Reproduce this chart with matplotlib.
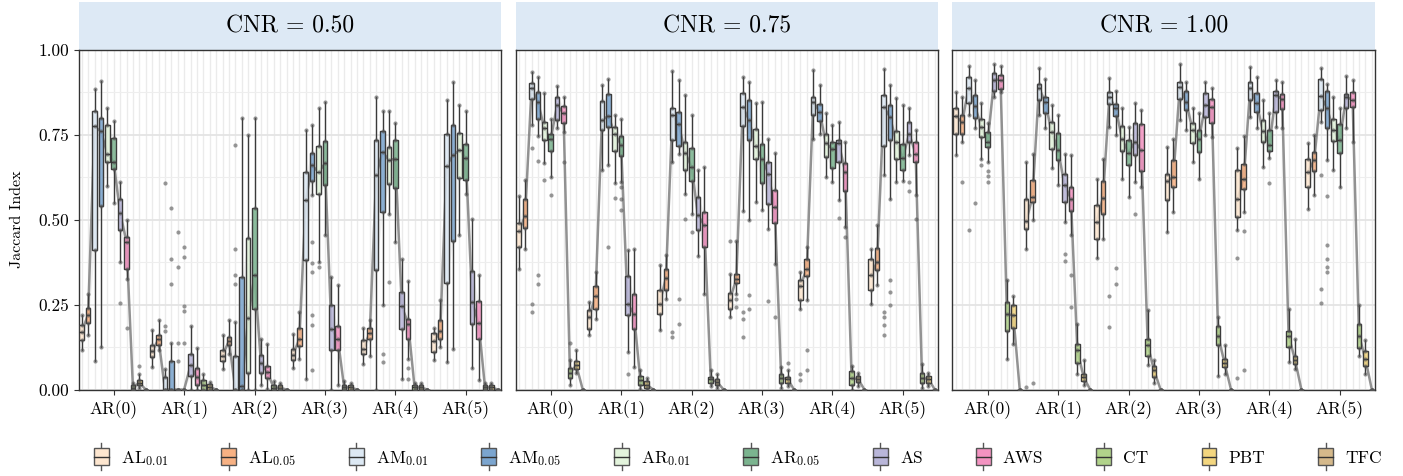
import matplotlib
matplotlib.use("Agg")
import matplotlib.pyplot as plt
from matplotlib.colors import to_rgba
from matplotlib.legend_handler import HandlerBase
from matplotlib.lines import Line2D
from matplotlib.patches import Patch, Rectangle

plt.rcParams.update({
    "font.family": "cmr10",
    "mathtext.fontset": "cm",
    "axes.formatter.use_mathtext": True,
})

# ── Data ──────────────────────────────────────────────────────────────
METHODS = [r"AL$_{0.01}$", r"AL$_{0.05}$", r"AM$_{0.01}$", r"AM$_{0.05}$",
           r"AR$_{0.01}$", r"AR$_{0.05}$", "AS", "AWS", "CT", "PBT", "TFC"]
COLORS = ["#fde6cf", "#f7b183", "#dde9f4", "#7ba5cf", "#e3f4dc", "#7bb48f",
          "#b9b6d9", "#f393c1", "#b1d38a", "#f3d67f", "#d5b98b"]
GROUPS = ["AR(0)", "AR(1)", "AR(2)", "AR(3)", "AR(4)", "AR(5)"]
CNR = ["0.50", "0.75", "1.00"]

# rows = METHODS, columns = GROUPS; lower whisker, q1, median, q3, upper whisker
LO_050 = [[0.115, 0.066, 0.06, 0.063, 0.076, 0.086], [0.16, 0.115, 0.105, 0.09, 0.10, 0.125],
          [0.085, 0.0, 0.0, 0.03, 0.0, 0.081], [0.125, 0.0, 0.0, 0.572, 0.25, 0.118],
          [0.60, 0.0, 0.0, 0.376, 0.518, 0.454], [0.55, 0.0, 0.0, 0.454, 0.435, 0.577],
          [0.375, 0.0, 0.012, 0.0, 0.03, 0.063], [0.325, 0.0, 0.002, 0.012, 0.09, 0.027],
          [0, 0, 0, 0, 0, 0], [0.005, 0, 0, 0, 0, 0], [0, 0, 0, 0, 0, 0]]
Q1_050 = [[0.145, 0.095, 0.083, 0.088, 0.105, 0.11], [0.197, 0.13, 0.13, 0.127, 0.15, 0.148],
          [0.41, 0.0, 0.0, 0.382, 0.351, 0.314], [0.54, 0.0, 0.0, 0.613, 0.523, 0.437],
          [0.67, 0.0, 0.048, 0.577, 0.604, 0.623], [0.65, 0.0, 0.238, 0.602, 0.594, 0.618],
          [0.47, 0.041, 0.049, 0.115, 0.179, 0.194], [0.355, 0.012, 0.034, 0.115, 0.15, 0.15],
          [0, 0, 0, 0, 0, 0], [0.012, 0, 0, 0, 0, 0], [0, 0, 0, 0, 0, 0]]
MED_050 = [[0.17, 0.112, 0.10, 0.102, 0.12, 0.142], [0.22, 0.148, 0.143, 0.148, 0.167, 0.171],
           [0.775, 0.0, 0.0, 0.557, 0.631, 0.659], [0.76, 0.0, 0.01, 0.66, 0.70, 0.69],
           [0.695, 0.0, 0.21, 0.64, 0.675, 0.705], [0.67, 0.0, 0.338, 0.666, 0.68, 0.682],
           [0.52, 0.071, 0.078, 0.179, 0.245, 0.258], [0.435, 0.036, 0.051, 0.15, 0.194, 0.196],
           [0.005, 0.012, 0.005, 0.006, 0.006, 0.006], [0.02, 0.007, 0.005, 0.006, 0.006, 0.006],
           [0, 0, 0, 0, 0, 0]]
Q3_050 = [[0.19, 0.132, 0.115, 0.12, 0.145, 0.165], [0.24, 0.16, 0.156, 0.18, 0.18, 0.204],
          [0.82, 0.038, 0.098, 0.641, 0.734, 0.754], [0.80, 0.085, 0.33, 0.698, 0.76, 0.779],
          [0.78, 0.0, 0.445, 0.718, 0.715, 0.755], [0.74, 0.0, 0.535, 0.732, 0.735, 0.724],
          [0.56, 0.105, 0.103, 0.25, 0.287, 0.348], [0.45, 0.063, 0.069, 0.186, 0.208, 0.26],
          [0.012, 0.027, 0.014, 0.012, 0.012, 0.012], [0.027, 0.017, 0.012, 0.012, 0.012, 0.012],
          [0, 0, 0, 0, 0, 0]]
HI_050 = [[0.22, 0.175, 0.16, 0.164, 0.18, 0.18], [0.28, 0.205, 0.204, 0.228, 0.204, 0.263],
          [0.885, 0.06, 0.2, 0.764, 0.862, 0.853], [0.91, 0.137, 0.80, 0.78, 0.82, 0.905],
          [0.83, 0.0, 0.75, 0.83, 0.82, 0.838], [0.79, 0.0, 0.80, 0.846, 0.784, 0.821],
          [0.61, 0.186, 0.15, 0.331, 0.385, 0.503], [0.50, 0.122, 0.135, 0.307, 0.32, 0.338],
          [0.02, 0.046, 0.025, 0.025, 0.02, 0.02], [0.046, 0.022, 0.02, 0.02, 0.02, 0.02],
          [0, 0, 0, 0, 0, 0]]
# (group, method, value)
FLIERS_050 = [(0, 6, 0.255), (0, 7, 0.18), (0, 9, 0.07),
              (1, 2, 0.607), (1, 2, 0.186), (1, 2, 0.172), (1, 3, 0.536), (1, 3, 0.383),
              (1, 3, 0.31), (1, 4, 0.464), (1, 4, 0.362), (1, 4, 0.137), (1, 4, 0.085),
              (1, 5, 0.42), (1, 5, 0.39), (1, 5, 0.245), (1, 5, 0.23), (1, 5, 0.137),
              (2, 2, 0.72), (2, 2, 0.415), (2, 2, 0.338), (2, 2, 0.31),
              (3, 3, 0.435), (3, 3, 0.374), (3, 3, 0.346), (3, 3, 0.218), (3, 3, 0.19),
              (3, 3, 0.056), (3, 4, 0.36),
              (4, 3, 0.105), (4, 3, 0.08), (4, 4, 0.317), (4, 7, 0.063), (4, 7, 0.03)]

LO_075 = [[0.354, 0.16, 0.174, 0.213, 0.238, 0.253], [0.415, 0.208, 0.267, 0.282, 0.263, 0.309],
          [0.779, 0.646, 0.671, 0.525, 0.739, 0.631], [0.747, 0.66, 0.695, 0.498, 0.754, 0.562],
          [0.666, 0.607, 0.577, 0.553, 0.626, 0.612], [0.626, 0.61, 0.518, 0.528, 0.61, 0.614],
          [0.769, 0.11, 0.393, 0.474, 0.558, 0.692], [0.759, 0.066, 0.282, 0.371, 0.48, 0.572],
          [0.012, 0.002, 0.01, 0.005, 0.0, 0.005], [0.05, 0.0, 0.005, 0.01, 0.01, 0.01],
          [0, 0, 0, 0, 0, 0]]
Q1_075 = [[0.42, 0.177, 0.223, 0.238, 0.263, 0.292], [0.477, 0.236, 0.292, 0.315, 0.334, 0.353],
          [0.857, 0.763, 0.735, 0.776, 0.808, 0.717], [0.798, 0.773, 0.718, 0.735, 0.792, 0.735],
          [0.735, 0.702, 0.648, 0.68, 0.685, 0.678], [0.703, 0.688, 0.614, 0.609, 0.651, 0.646],
          [0.795, 0.22, 0.471, 0.546, 0.669, 0.728], [0.786, 0.177, 0.42, 0.49, 0.585, 0.669],
          [0.033, 0.012, 0.02, 0.02, 0.012, 0.02], [0.061, 0.004, 0.012, 0.02, 0.022, 0.02],
          [0, 0, 0, 0, 0, 0]]
MED_075 = [[0.466, 0.213, 0.253, 0.265, 0.305, 0.336], [0.51, 0.275, 0.328, 0.326, 0.356, 0.376],
           [0.887, 0.793, 0.808, 0.833, 0.848, 0.833], [0.848, 0.806, 0.781, 0.793, 0.818, 0.803],
           [0.769, 0.754, 0.698, 0.717, 0.725, 0.728], [0.737, 0.72, 0.656, 0.68, 0.708, 0.682],
           [0.838, 0.253, 0.513, 0.636, 0.725, 0.754], [0.813, 0.223, 0.484, 0.538, 0.641, 0.695],
           [0.049, 0.027, 0.03, 0.034, 0.033, 0.034], [0.071, 0.014, 0.022, 0.031, 0.031, 0.031],
           [0, 0, 0, 0, 0, 0]]
Q3_075 = [[0.49, 0.233, 0.294, 0.285, 0.322, 0.383], [0.562, 0.305, 0.355, 0.341, 0.385, 0.418],
          [0.902, 0.85, 0.828, 0.874, 0.862, 0.867], [0.877, 0.87, 0.816, 0.854, 0.842, 0.839],
          [0.789, 0.773, 0.728, 0.766, 0.754, 0.762], [0.754, 0.747, 0.71, 0.722, 0.73, 0.722],
          [0.862, 0.334, 0.567, 0.671, 0.735, 0.789], [0.835, 0.281, 0.523, 0.589, 0.666, 0.728],
          [0.063, 0.039, 0.038, 0.046, 0.054, 0.048], [0.083, 0.024, 0.031, 0.038, 0.041, 0.041],
          [0, 0, 0, 0, 0, 0]]
HI_075 = [[0.57, 0.258, 0.366, 0.341, 0.346, 0.413], [0.617, 0.346, 0.395, 0.437, 0.42, 0.484],
          [0.936, 0.897, 0.939, 0.921, 0.941, 0.944], [0.919, 0.916, 0.912, 0.907, 0.897, 0.897],
          [0.872, 0.808, 0.867, 0.843, 0.813, 0.86], [0.796, 0.796, 0.81, 0.848, 0.779, 0.838],
          [0.895, 0.41, 0.646, 0.739, 0.787, 0.828], [0.862, 0.415, 0.656, 0.698, 0.73, 0.764],
          [0.086, 0.056, 0.056, 0.066, 0.07, 0.076], [0.115, 0.035, 0.045, 0.056, 0.05, 0.05],
          [0, 0, 0, 0, 0, 0]]
FLIERS_075 = [(0, 2, 0.71), (0, 2, 0.253), (0, 2, 0.228), (0, 3, 0.673), (0, 3, 0.338),
              (0, 3, 0.312), (0, 4, 0.617), (0, 5, 0.572), (0, 7, 0.669), (0, 8, 0.137),
              (1, 3, 0.42), (1, 4, 0.564), (1, 5, 0.595), (1, 5, 0.562), (1, 5, 0.528),
              (1, 6, 0.046),
              (2, 2, 0.154), (2, 2, 0.17), (2, 3, 0.267), (2, 3, 0.194), (2, 4, 0.503),
              (2, 5, 0.464),
              (3, 0, 0.437), (3, 1, 0.267), (3, 1, 0.243), (3, 2, 0.228), (3, 2, 0.208),
              (3, 2, 0.154), (3, 3, 0.279), (3, 3, 0.238), (3, 6, 0.26), (3, 7, 0.215),
              (3, 9, 0.079),
              (4, 0, 0.046), (4, 0, 0.027), (4, 1, 0.115), (4, 1, 0.056), (4, 6, 0.505),
              (4, 7, 0.449),
              (5, 2, 0.228), (5, 2, 0.213), (5, 2, 0.189), (5, 2, 0.161), (5, 3, 0.323),
              (5, 3, 0.287), (5, 3, 0.248), (5, 6, 0.612), (5, 6, 0.584), (5, 7, 0.503)]

LO_100 = [[0.69, 0.415, 0.387, 0.464, 0.469, 0.533], [0.73, 0.499, 0.444, 0.523, 0.523, 0.574],
          [0.808, 0.808, 0.774, 0.794, 0.803, 0.789], [0.769, 0.769, 0.751, 0.764, 0.769, 0.676],
          [0.68, 0.651, 0.621, 0.671, 0.656, 0.646], [0.671, 0.602, 0.567, 0.621, 0.681, 0.597],
          [0.862, 0.494, 0.612, 0.749, 0.774, 0.769], [0.877, 0.454, 0.597, 0.744, 0.769, 0.73],
          [0.09, 0.046, 0.071, 0.041, 0.081, 0.1], [0.135, 0.012, 0.02, 0.046, 0.06, 0.046],
          [0, 0, 0, 0, 0, 0]]
Q1_100 = [[0.754, 0.474, 0.444, 0.558, 0.508, 0.597], [0.754, 0.553, 0.518, 0.597, 0.59, 0.643],
          [0.843, 0.853, 0.84, 0.857, 0.853, 0.822], [0.80, 0.813, 0.806, 0.823, 0.816, 0.771],
          [0.744, 0.708, 0.702, 0.727, 0.728, 0.731], [0.715, 0.677, 0.661, 0.70, 0.702, 0.698],
          [0.88, 0.553, 0.69, 0.803, 0.818, 0.83], [0.884, 0.525, 0.643, 0.784, 0.826, 0.831],
          [0.171, 0.079, 0.10, 0.13, 0.125, 0.122], [0.181, 0.024, 0.036, 0.066, 0.076, 0.069],
          [0, 0, 0, 0, 0, 0]]
MED_100 = [[0.805, 0.496, 0.494, 0.614, 0.56, 0.641], [0.787, 0.567, 0.564, 0.626, 0.621, 0.676],
           [0.887, 0.889, 0.862, 0.892, 0.887, 0.865], [0.836, 0.846, 0.828, 0.848, 0.843, 0.83],
           [0.774, 0.757, 0.737, 0.764, 0.761, 0.764], [0.73, 0.705, 0.698, 0.739, 0.72, 0.735],
           [0.913, 0.602, 0.73, 0.838, 0.867, 0.862], [0.912, 0.562, 0.705, 0.833, 0.855, 0.853],
           [0.223, 0.115, 0.13, 0.157, 0.159, 0.159], [0.218, 0.036, 0.056, 0.078, 0.088, 0.09],
           [0, 0, 0, 0, 0, 0]]
Q3_100 = [[0.828, 0.56, 0.543, 0.636, 0.646, 0.68], [0.81, 0.616, 0.614, 0.677, 0.663, 0.70],
          [0.919, 0.90, 0.875, 0.907, 0.907, 0.914], [0.867, 0.862, 0.84, 0.879, 0.872, 0.879],
          [0.798, 0.789, 0.776, 0.784, 0.793, 0.797], [0.757, 0.756, 0.735, 0.764, 0.764, 0.781],
          [0.931, 0.636, 0.784, 0.872, 0.88, 0.869], [0.926, 0.595, 0.781, 0.857, 0.869, 0.875],
          [0.258, 0.135, 0.149, 0.186, 0.171, 0.194], [0.25, 0.046, 0.069, 0.09, 0.098, 0.112],
          [0, 0, 0, 0, 0, 0]]
HI_100 = [[0.877, 0.671, 0.621, 0.715, 0.71, 0.725], [0.862, 0.695, 0.68, 0.739, 0.747, 0.749],
          [0.954, 0.946, 0.918, 0.958, 0.951, 0.946], [0.912, 0.916, 0.88, 0.905, 0.921, 0.90],
          [0.843, 0.838, 0.828, 0.828, 0.853, 0.862], [0.784, 0.808, 0.774, 0.813, 0.813, 0.828],
          [0.958, 0.695, 0.843, 0.907, 0.912, 0.924], [0.954, 0.69, 0.823, 0.887, 0.907, 0.912],
          [0.322, 0.194, 0.233, 0.213, 0.238, 0.248], [0.275, 0.088, 0.088, 0.132, 0.149, 0.145],
          [0, 0, 0, 0, 0, 0]]
FLIERS_100 = [(0, 1, 0.612), (0, 2, 0.471), (0, 3, 0.548), (0, 4, 0.661), (0, 5, 0.645),
              (0, 5, 0.63), (0, 5, 0.612),
              (1, 0, 0.007), (1, 1, 0.02), (1, 6, 0.398), (1, 6, 0.378), (1, 7, 0.336),
              (1, 7, 0.243),
              (2, 2, 0.275), (2, 2, 0.184), (2, 3, 0.358), (2, 3, 0.312), (2, 6, 0.518),
              (4, 0, 0.387), (4, 0, 0.033), (4, 1, 0.467), (4, 1, 0.056), (4, 5, 0.607),
              (5, 2, 0.631), (5, 2, 0.297), (5, 2, 0.256), (5, 3, 0.57), (5, 3, 0.427),
              (5, 3, 0.383), (5, 3, 0.36), (5, 3, 0.346)]

PANELS = [
    (LO_050, Q1_050, MED_050, Q3_050, HI_050, FLIERS_050),
    (LO_075, Q1_075, MED_075, Q3_075, HI_075, FLIERS_075),
    (LO_100, Q1_100, MED_100, Q3_100, HI_100, FLIERS_100),
]


class BoxHandler(HandlerBase):
    """Legend key drawn as a tiny boxplot."""

    def create_artists(self, legend, orig_handle, xdescent, ydescent,
                       width, height, fontsize, trans):
        x0, y0 = -xdescent, -ydescent
        cx = x0 + width / 2
        ext = 0.32 * height
        rect = Rectangle((x0, y0), width, height, facecolor=orig_handle.get_facecolor(),
                         edgecolor="#555555", linewidth=1.0, transform=trans)
        med = Line2D([x0, x0 + width], [y0 + height / 2] * 2, color="#333333",
                     linewidth=1.0, transform=trans)
        w_hi = Line2D([cx, cx], [y0 + height, y0 + height + ext], color="#555555",
                      linewidth=1.0, transform=trans)
        w_lo = Line2D([cx, cx], [y0 - ext, y0], color="#555555",
                      linewidth=1.0, transform=trans)
        return [w_hi, w_lo, rect, med]


W, H = 1403, 476
fig = plt.figure(figsize=(W / 100, H / 100), dpi=100)
NM, NG = len(METHODS), len(GROUPS)
lefts = [78.5, 515.5, 952.5]
ax_w, ax_h, ax_bottom = 422.5, 339.5, 389.5
strip_h = 48

for p, (lo, q1, med, q3, hi, fliers) in enumerate(PANELS):
    ax = fig.add_axes([lefts[p] / W, 1 - ax_bottom / H, ax_w / W, ax_h / H])

    # grid: one vertical line per box slot
    ax.set_xticks(range(NM * NG), minor=True)
    ax.set_xticks([g * NM + 5 for g in range(NG)])
    ax.set_xticklabels(GROUPS, fontsize=12.5)
    ax.set_yticks([0, 0.25, 0.5, 0.75, 1.0])
    ax.set_yticks([0.125, 0.375, 0.625, 0.875], minor=True)
    ax.grid(True, which="both", axis="x", color="#ebebeb", linewidth=1.0, zorder=0)
    ax.grid(True, which="major", axis="y", color="#e4e4e4", linewidth=1.3, zorder=0)
    ax.grid(True, which="minor", axis="y", color="#eeeeee", linewidth=0.8, zorder=0)
    ax.set_axisbelow(True)
    ax.tick_params(which="minor", length=0)
    ax.tick_params(axis="x", length=3.5, color="#333333", pad=4)
    if p == 0:
        ax.set_yticklabels(["0.00", "0.25", "0.50", "0.75", "1.00"], fontsize=12.5)
        ax.tick_params(axis="y", length=3.5, color="#333333")
        ax.set_ylabel("Jaccard Index", fontsize=11.5, labelpad=10)
    else:
        ax.tick_params(axis="y", left=False, labelleft=False)

    # trend line per AR group
    for g in range(NG):
        xs = [g * NM + m for m in range(NM)]
        ax.fill_between(xs, [q1[m][g] for m in range(NM)], [q3[m][g] for m in range(NM)],
                        color="#9a9a9a", alpha=0.12, linewidth=0, zorder=1.5)
        ax.plot(xs, [med[m][g] for m in range(NM)], color="#808080", linewidth=1.8,
                alpha=0.85, zorder=2)

    stats, positions, colors = [], [], []
    for g in range(NG):
        for m in range(NM):
            stats.append(dict(whislo=lo[m][g], q1=q1[m][g], med=med[m][g],
                              q3=q3[m][g], whishi=hi[m][g], fliers=[]))
            positions.append(g * NM + m)
            colors.append(COLORS[m])
    art = ax.bxp(stats, positions=positions, widths=0.72, patch_artist=True,
                 showfliers=False, showcaps=False, manage_ticks=False, zorder=3,
                 boxprops=dict(edgecolor="#3a3a3a", linewidth=1.0),
                 whiskerprops=dict(color="#3a3a3a", linewidth=1.0),
                 medianprops=dict(color="#2b2b2b", linewidth=1.0))
    for patch, c in zip(art["boxes"], colors):
        patch.set_facecolor(to_rgba(c, 0.85))

    # observation dots: box statistics plus outliers
    px = [x for x in positions for _ in range(5)]
    py = [v for s in stats for v in (s["whislo"], s["q1"], s["med"], s["q3"], s["whishi"])]
    px += [g * NM + m for g, m, _ in fliers]
    py += [v for _, _, v in fliers]
    ax.plot(px, py, "o", markersize=3.0, color="#555555", alpha=0.6,
            markeredgewidth=0, zorder=4)

    ax.set_xlim(-0.5, NM * NG - 0.5)
    ax.set_ylim(0, 1)
    for s in ax.spines.values():
        s.set_color("#333333")
        s.set_linewidth(1.0)

    # facet strip
    ax.add_patch(Rectangle((0, 1), 1, strip_h / ax_h, transform=ax.transAxes,
                           facecolor="#dde9f5", edgecolor="none", clip_on=False))
    ax.text(0.5, 1 + strip_h / 2 / ax_h, f"CNR = {CNR[p]}", transform=ax.transAxes,
            ha="center", va="center", fontsize=17)

handles = [Patch(facecolor=c) for c in COLORS]
fig.legend(handles, METHODS, handler_map={Patch: BoxHandler()}, loc="center",
           bbox_to_anchor=(0.526, 0.038), ncol=NM, frameon=False, fontsize=12.5,
           handlelength=0.86, handleheight=1.1, handletextpad=0.7, columnspacing=3.05)

fig.savefig("out.png", dpi=100)
